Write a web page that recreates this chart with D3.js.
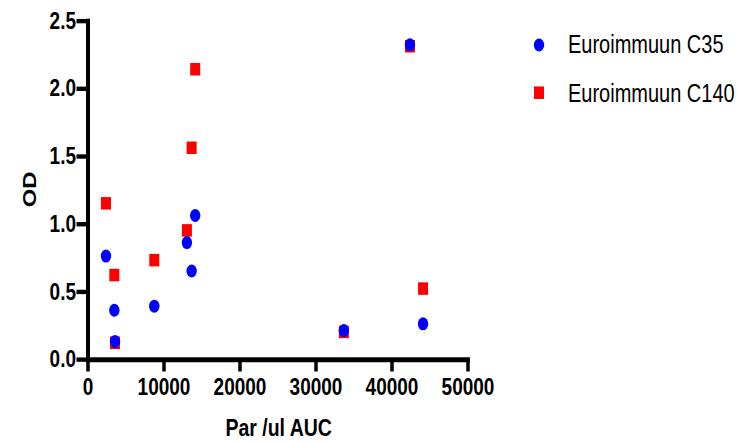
<!DOCTYPE html>
<html>
<head>
<meta charset="utf-8">
<script src="https://cdn.jsdelivr.net/npm/d3@7"></script>
<style>
  html, body { margin: 0; padding: 0; background: #fff; }
  svg { display: block; }
  text { font-family: "Liberation Sans", Arial, sans-serif; fill: #000; }
</style>
</head>
<body>
<svg id="chart" width="756" height="442"></svg>
<script>
// ---- data ----
const xValues = [2430, 3530, 3620, 8790, 13080, 13700, 14170, 33730, 42430, 44150];
const c35Values = [0.76, 0.36, 0.13, 0.39, 0.86, 0.65, 1.06, 0.21, 2.32, 0.26];
const c140Values = [1.15, 0.62, 0.12, 0.73, 0.95, 1.56, 2.14, 0.20, 2.31, 0.52];
const seriesNames = ["Euroimmuun C35", "Euroimmuun C140"];
const xTicks = [0, 10000, 20000, 30000, 40000, 50000];
const yTicks = [0.0, 0.5, 1.0, 1.5, 2.0, 2.5];
const xTitle = "Par /ul AUC";
const yTitle = "OD";

// ---- layout (the picture is stretched vertically) ----
const K = 1.25;
const svg = d3.select("#chart");
const root = svg.append("g").attr("transform", `scale(1,${K})`);

const x = d3.scaleLinear().domain([0, 50000]).range([87.5, 467.5]);
const y = d3.scaleLinear().domain([0, 2.5]).range([287.2, 16.4]);

// axes
const xAxis = d3.axisBottom(x).tickValues(xTicks).tickFormat(d3.format("d"))
  .tickSize(10).tickSizeOuter(0).tickPadding(5);
const yAxis = d3.axisLeft(y).tickValues(yTicks).tickFormat(d3.format(".1f"))
  .tickSize(11).tickSizeOuter(0).tickPadding(0.5);

const gx = root.append("g").attr("transform", `translate(0,${y(0)})`).call(xAxis);
const gy = root.append("g").attr("transform", `translate(${x(0)},0)`).call(yAxis);

[gx, gy].forEach(g => {
  g.select(".domain").attr("stroke", "#000").attr("stroke-width", 4).attr("stroke-linecap", "square");
  g.selectAll(".tick line").attr("stroke", "#000").attr("stroke-width", 3.5);
  g.selectAll(".tick text")
    .attr("fill", "#000")
    .style("font-family", '"Liberation Sans", Arial, sans-serif')
    .style("font-weight", "bold")
    .style("font-size", "19px");
});

// titles
root.append("text")
  .attr("x", 278.7).attr("y", 348.8)
  .attr("text-anchor", "middle")
  .style("font-weight", "bold").style("font-size", "19.5px")
  .text(xTitle);

root.append("text")
  .attr("transform", `translate(36,${189.5 / K}) rotate(-90)`)
  .attr("text-anchor", "middle")
  .style("font-weight", "bold").style("font-size", "19px")
  .text(yTitle);

// points: C140 squares first, C35 circles on top
const sq = 10;
root.append("g").selectAll("rect")
  .data(xValues.map((xv, i) => [xv, c140Values[i]]))
  .join("rect")
  .attr("x", d => x(d[0]) - sq / 2)
  .attr("y", d => y(d[1]) - sq / 2)
  .attr("width", sq).attr("height", sq)
  .attr("fill", "#ff0000");

root.append("g").selectAll("circle")
  .data(xValues.map((xv, i) => [xv, c35Values[i]]))
  .join("circle")
  .attr("cx", d => x(d[0]))
  .attr("cy", d => y(d[1]))
  .attr("r", 5.2)
  .attr("fill", "#0000ff");

// legend
const legend = root.append("g");
legend.append("circle").attr("cx", 539).attr("cy", 45 / K).attr("r", 5.2).attr("fill", "#0000ff");
legend.append("text").attr("x", 568).attr("y", 53.3 / K)
  .style("font-size", "20px").text(seriesNames[0]);
legend.append("rect").attr("x", 539 - sq / 2).attr("y", 92.7 / K - sq / 2)
  .attr("width", sq).attr("height", sq).attr("fill", "#ff0000");
legend.append("text").attr("x", 568).attr("y", 101.7 / K)
  .style("font-size", "20px").text(seriesNames[1]);
</script>
</body>
</html>
